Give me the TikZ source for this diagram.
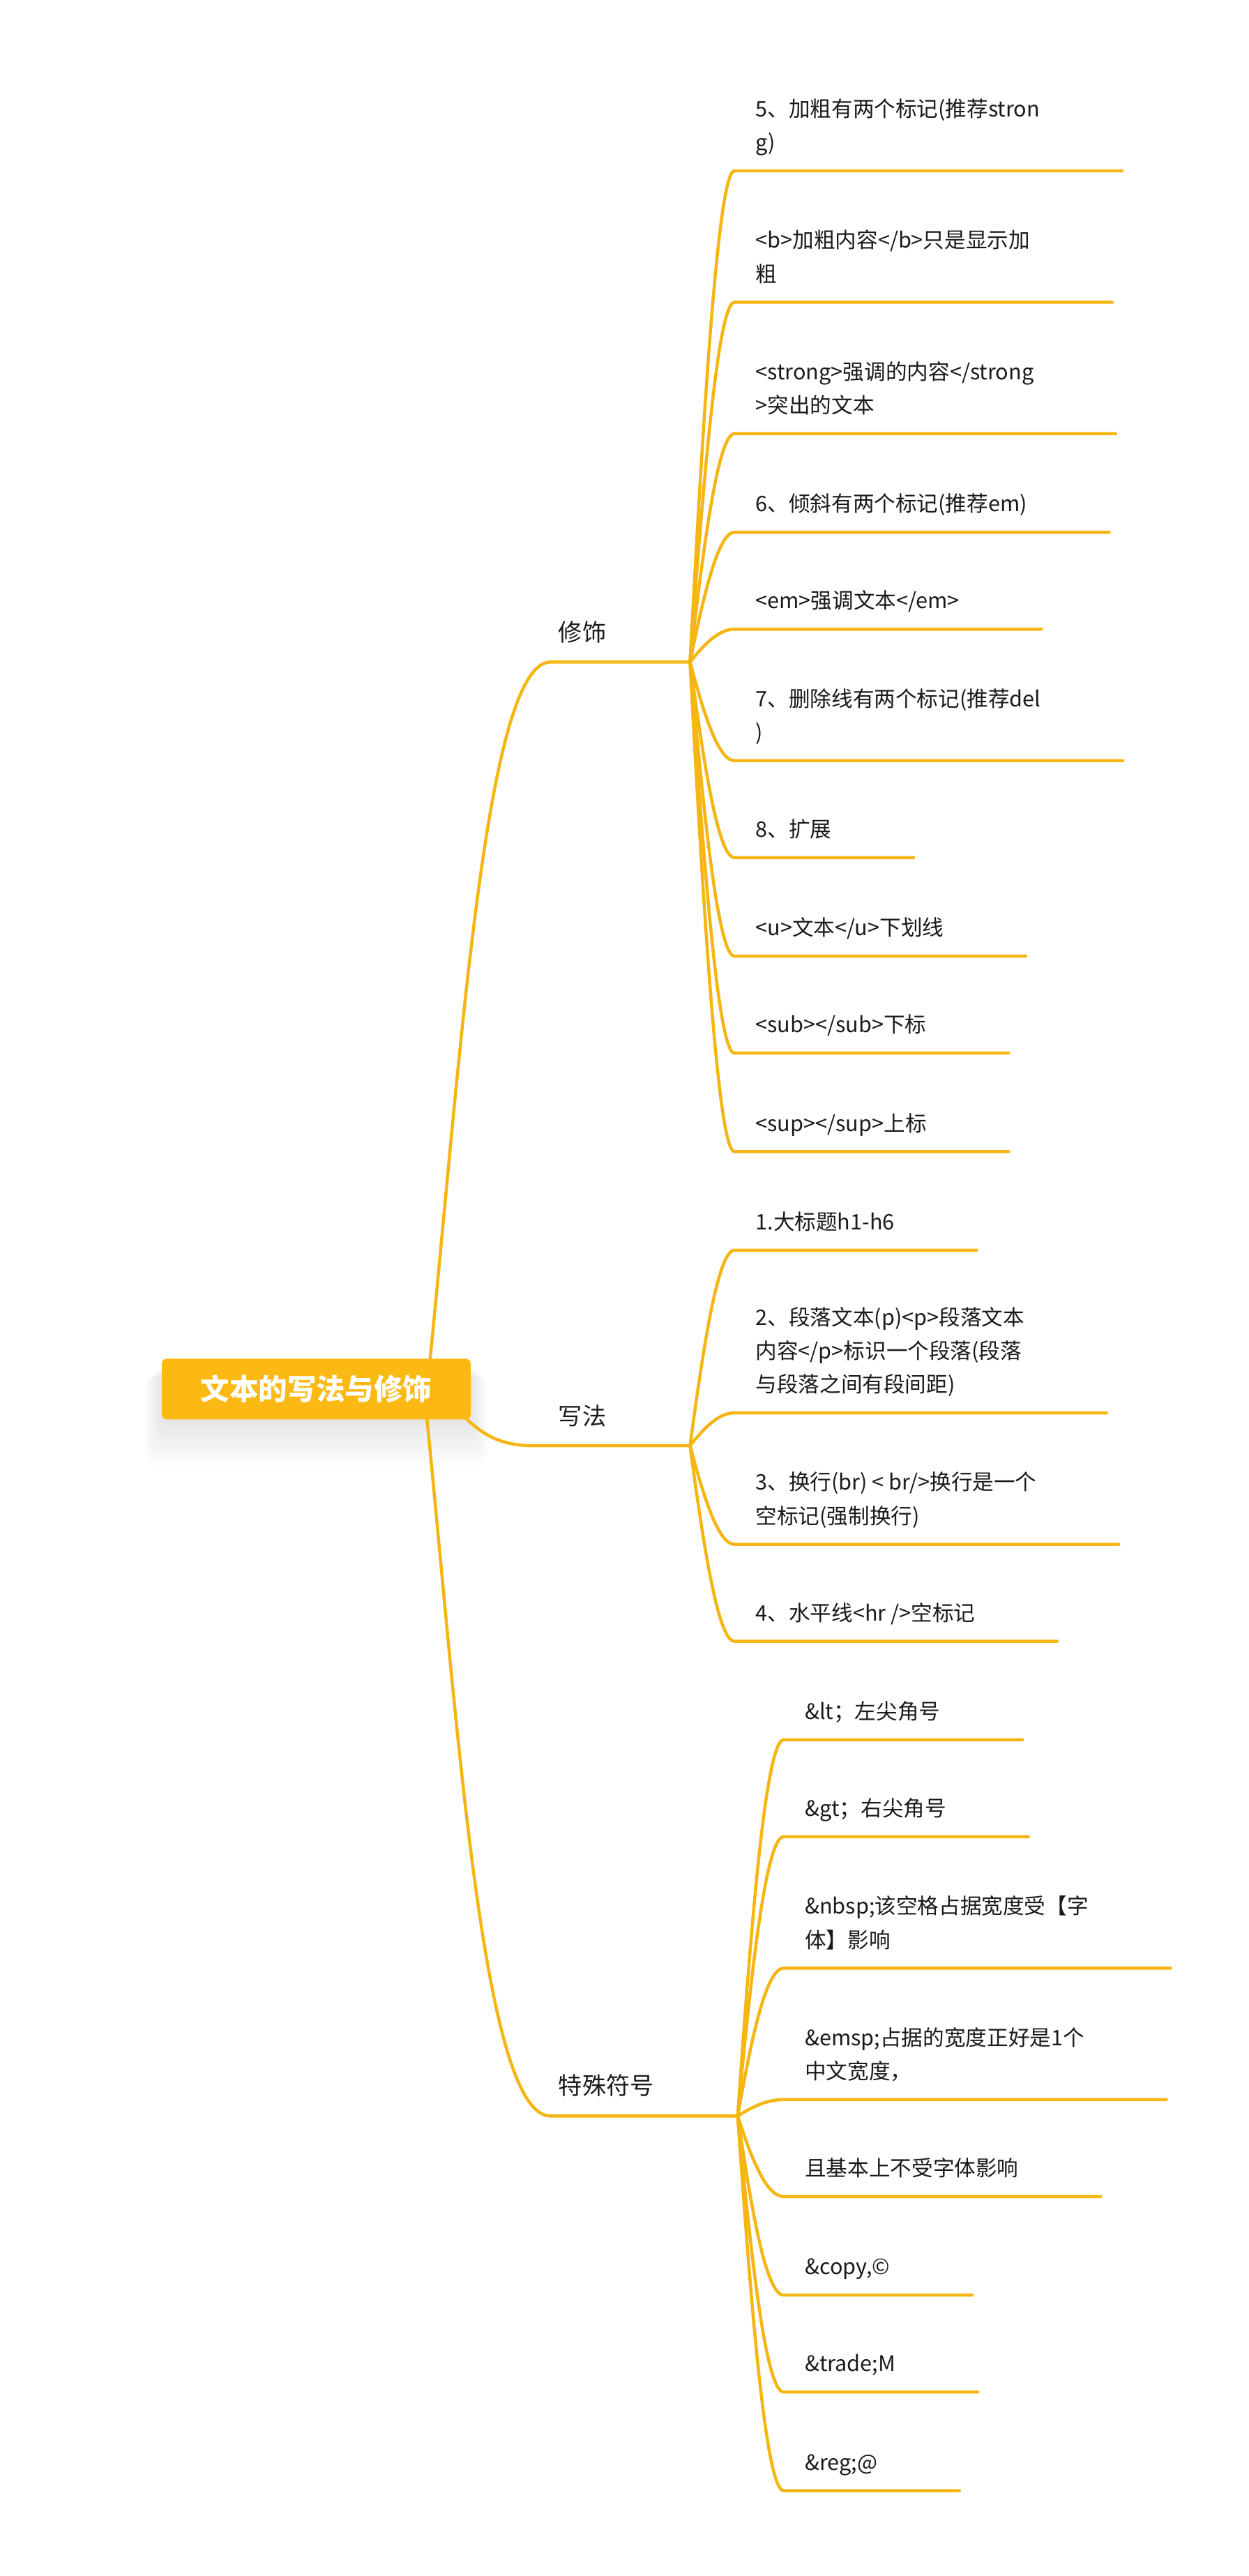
\documentclass[tikz,border=0pt]{standalone}
\usepackage{fontspec}
\setmainfont{Noto Sans CJK SC}
\usetikzlibrary{calc}

\definecolor{mapgold}{HTML}{F5B613}
\definecolor{rootgold}{HTML}{FDB913}
\definecolor{inktext}{HTML}{1A1A1A}

\tikzset{every picture/.style={line width=1.9pt}}
\tikzset{
  branch/.style={draw=mapgold, line width=1.9pt, line cap=round},
  leaf/.style={anchor=south west, inner sep=0pt, text depth=0pt, align=left, text=inktext,
    font=\fontsize{13}{20.5}\selectfont},
  topic/.style={anchor=base west, inner sep=0pt, text=inktext, font=\fontsize{14.5}{17}\selectfont},
  rootbox/.style={fill=rootgold, text=white, rounded corners=3pt, minimum width=188pt,
    minimum height=37pt, inner sep=0pt, font=\fontsize{17.6}{20}\selectfont\bfseries},
  leafcurve/.style={to path={.. controls ($(\tikztostart)!0.5!(\tikztostart |- \tikztotarget)+(8,0)$)
    and ($(\tikztostart |- \tikztotarget)+(17,0)$) .. (\tikztotarget)}}
}

\begin{document}
\begin{tikzpicture}[x=1pt,y=1pt,yscale=-1,xscale=1]
\useasboundingbox (0,0) rectangle (760,1568);

%soft shadow under the root
\foreach \k in {1,...,8}
  \fill[black, opacity=0.01, rounded corners=6pt] (98-1.2*\k,830+\k) rectangle (287+1.2*\k,864+3.5*\k);

%branch ends
\coordinate (xiushi-o) at (260,845);
\coordinate (xiushi-s) at (335,403);
\coordinate (xiushi-h) at (420,403);
\coordinate (xiefa-o) at (262,845);
\coordinate (xiefa-s) at (325,880);
\coordinate (xiefa-h) at (420,880);
\coordinate (fuhao-o) at (258,845);
\coordinate (fuhao-s) at (335,1288);
\coordinate (fuhao-h) at (449,1288);

%main branches
\draw[branch] (xiushi-o) .. controls +(20,-195) and +(-40,0) .. (xiushi-s) -- (xiushi-h);
\draw[branch] (xiefa-o) .. controls +(23,15) and +(-35,0) .. (xiefa-s) -- (xiefa-h);
\draw[branch] (fuhao-o) .. controls +(20,195) and +(-42,0) .. (fuhao-s) -- (fuhao-h);

% Root
\node[rootbox] (root) at (192.5,845.5) {文本的写法与修饰};

% Topics
\node[topic] (xiushi) at (339,390.5) {修饰};
\node[topic] (xiefa) at (339,867.5) {写法};
\node[topic] (fuhao) at (339,1275) {特殊符号};

% Leaves of 修饰
\node[leaf] (m1) at (459,92.5) {5、加粗有两个标记(推荐stron\\g)};
\node[leaf] (m2) at (459,172.5) {<b>加粗内容</b>只是显示加\\粗};
\node[leaf] (m3) at (459,252.5) {<strong>强调的内容</strong\\>突出的文本};
\node[leaf] (m4) at (459,312.5) {6、倾斜有两个标记(推荐em)};
\node[leaf] (m5) at (459,371.5) {<em>强调文本</em>};
\node[leaf] (m6) at (459,451.5) {7、删除线有两个标记(推荐del\\)};
\node[leaf] (m7) at (459,510.5) {8、扩展};
\node[leaf] (m8) at (459,570.5) {<u>文本</u>下划线};
\node[leaf] (m9) at (459,629.5) {<sub></sub>下标};
\node[leaf] (m10) at (459,689.5) {<sup></sup>上标};

% Leaves of 写法
\node[leaf] (w1) at (459,749.5) {1.大标题h1-h6};
\node[leaf] (w2) at (459,848.5) {2、段落文本(p)<p>段落文本\\内容</p>标识一个段落(段落\\与段落之间有段间距)};
\node[leaf] (w3) at (459,928.5) {3、换行(br) < br/>换行是一个\\空标记(强制换行)};
\node[leaf] (w4) at (459,987.5) {4、水平线<hr />空标记};

% Leaves of 特殊符号
\node[leaf] (s1) at (489,1047.5) {\&lt；左尖角号};
\node[leaf] (s2) at (489,1106.5) {\&gt；右尖角号};
\node[leaf] (s3) at (489,1186.5) {\&nbsp;该空格占据宽度受【字\\体】影响};
\node[leaf] (s4) at (489,1266.5) {\&emsp;占据的宽度正好是1个\\中文宽度，};
\node[leaf] (s5) at (489,1325.5) {且基本上不受字体影响};
\node[leaf] (s6) at (489,1385.5) {\&copy,©};
\node[leaf] (s7) at (489,1444.5) {\&trade;M};
\node[leaf] (s8) at (489,1504.5) {\&reg;@};

%leaf connectors with underlines
\foreach \hub/\list in {xiushi-h/{m1,m2,m3,m4,m5,m6,m7,m8,m9,m10},
                        xiefa-h/{w1,w2,w3,w4},
                        fuhao-h/{s1,s2,s3,s4,s5,s6,s7,s8}}{
  \foreach \n in \list {
    \coordinate (\n-s) at ($(\n.south west)+(-12,11.5)$);
    \coordinate (\n-e) at ($(\n.south east)+(49,11.5)$);
    \draw[branch] (\hub) to[leafcurve] (\n-s) -- (\n-e);
  }
}

\end{tikzpicture}
\end{document}
